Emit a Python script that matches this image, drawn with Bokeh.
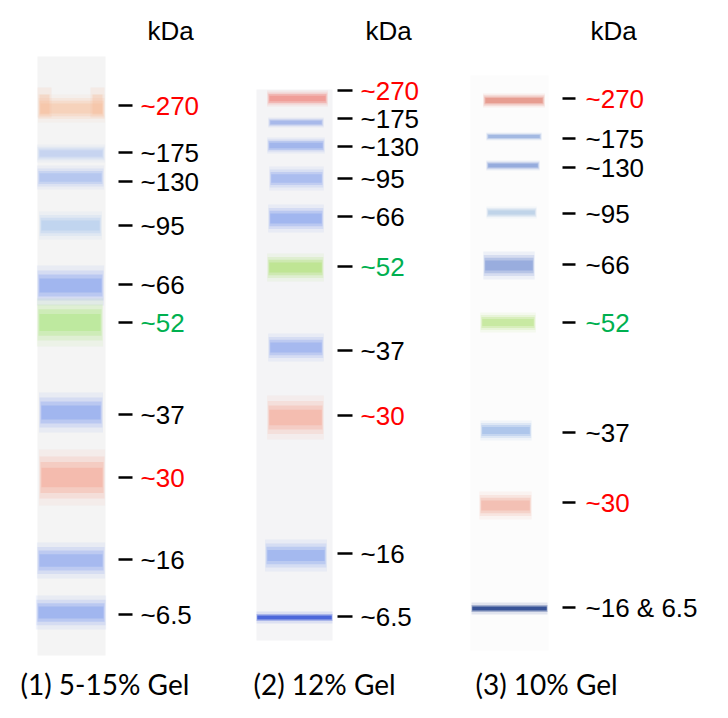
from bokeh.plotting import figure
from bokeh.models import Range1d, ColumnDataSource
from bokeh.embed import file_html
from bokeh.resources import INLINE
from bokeh.core.properties import value

# ---------------- data ----------------
unit_label = "kDa"
lane_titles = ["(1) 5-15% Gel", "(2) 12% Gel", "(3) 10% Gel"]

lane1_markers = ["~270", "~175", "~130", "~95", "~66", "~52", "~37", "~30", "~16", "~6.5"]
lane1_band_y = [108, 153, 177, 225, 285, 322, 412, 477, 560, 612]
lane1_label_y = [105, 152, 181, 225, 284, 322, 414, 477, 559, 614]

lane2_markers = ["~270", "~175", "~130", "~95", "~66", "~52", "~37", "~30", "~16", "~6.5"]
lane2_band_y = [98, 122, 145, 178, 218, 267, 347, 417, 555, 617]
lane2_label_y = [90, 118, 146, 178, 216, 266, 350, 415, 553, 616]

lane3_markers = ["~270", "~175", "~130", "~95", "~66", "~52", "~37", "~30", "~16 & 6.5"]
lane3_band_y = [100, 136, 165, 212, 265, 322, 430, 505, 608]
lane3_label_y = [98, 138, 167, 213, 264, 322, 432, 502, 607]

# ---------------- styles ----------------
label_colors = {"~270": "#FF0000", "~30": "#FF0000", "~52": "#00B050"}

lane1_style = [  # (color, height, x0, x1)
    ("#F7C3A2", 14, 39, 103), ("#B3C6F0", 9, 38, 103), ("#9BB3EE", 12, 38, 102),
    ("#ABC8EE", 14, 40, 100), ("#7D9BEE", 20, 38, 102), ("#A8E57A", 24, 38, 101),
    ("#7E9CEE", 20, 40, 101), ("#F5A290", 28, 40, 103), ("#84A0EE", 18, 38, 103),
    ("#7E9CEE", 17, 37, 104),
]
lane2_style = [
    ("#EF7870", 8, 268, 326), ("#87A0E6", 5, 269, 322), ("#7F9AE8", 8, 268, 323),
    ("#8AA6EE", 12, 270, 322), ("#7E9CEE", 14, 269, 322), ("#A9DE68", 14, 268, 322),
    ("#84A0EE", 14, 269, 322), ("#F4A492", 22, 268, 322), ("#82A0EE", 16, 266, 325),
    ("#3554D6", 4, 256, 332),
]
lane3_style = [
    ("#DE7262", 7, 484, 543), ("#7C9AD8", 4, 487, 540), ("#6A8AD0", 5, 487, 538),
    ("#A6C4E0", 6, 487, 535), ("#6D8CD2", 14, 484, 533), ("#B2E07A", 10, 481, 534),
    ("#8DAEE4", 10, 481, 530), ("#F0A696", 14, 480, 530), ("#1D3C88", 4, 471, 547),
]

gels = [  # background strips (x0, x1, y0, y1, color)
    (37, 105, 56, 655, "#F4F4F4"),
    (256, 332, 89, 640, "#F4F4F6"),
    (470, 548, 75, 650, "#FCFCFC"),
]
tick_x = [(118, 132), (337, 352), (562, 575)]
label_x = [140, 360, 585]
kda_x = [147, 365, 590]
title_x = [20, 253, 475]

p = figure(width=712, height=702, output_backend="svg", toolbar_location=None,
           x_range=Range1d(0, 712), y_range=Range1d(702, 0), min_border=0)
p.axis.visible = False
p.grid.visible = False
p.outline_line_color = None
p.background_fill_color = "white"
p.border_fill_color = "white"

# gel strips
p.quad(left=[g[0] for g in gels], right=[g[1] for g in gels],
       top=[g[2] for g in gels], bottom=[g[3] for g in gels],
       fill_color=[g[4] for g in gels], line_color=None)

layers = [(2.0, 1.05, 0.10), (1.5, 1.03, 0.18), (1.1, 1.0, 0.30), (0.7, 0.97, 0.40)]
sharp_layers = [(3.0, 1.0, 0.12), (1.8, 1.0, 0.3), (1.0, 0.98, 0.8)]

def draw_bands(band_y, style, sharp_idx=()):
    for i, (yv, st) in enumerate(zip(band_y, style)):
        col, h, x0, x1 = st
        lay = sharp_layers if i in sharp_idx else layers
        xs, ys, ws, hs, alphas = [], [], [], [], []
        for sh, sw, a in lay:
            xs.append((x0 + x1) / 2)
            ys.append(yv)
            ws.append((x1 - x0) * sw)
            hs.append(h * sh)
            alphas.append(a)
        src = ColumnDataSource(dict(x=xs, y=ys, w=ws, h=hs, a=alphas))
        p.rect(x="x", y="y", width="w", height="h", source=src,
               fill_color=col, fill_alpha="a", line_color=None)

draw_bands(lane1_band_y, lane1_style)
# smile shape of lane 1 top band: raised edges
edge_src = ColumnDataSource(dict(x=[44, 97, 44, 97], y=[lane1_band_y[0] - 6] * 2 + [lane1_band_y[0] - 4] * 2,
                                 w=[14, 14, 10, 10], h=[30, 30, 20, 20], a=[0.15, 0.15, 0.3, 0.3]))
p.rect(x="x", y="y", width="w", height="h", source=edge_src, fill_color="#F5B894",
       fill_alpha="a", line_color=None)
draw_bands(lane2_band_y, lane2_style, sharp_idx=(9,))
draw_bands(lane3_band_y, lane3_style, sharp_idx=(8,))

# ticks and labels
for i, (marks, ly) in enumerate([(lane1_markers, lane1_label_y),
                                  (lane2_markers, lane2_label_y),
                                  (lane3_markers, lane3_label_y)]):
    t0, t1 = tick_x[i]
    p.segment(x0=[t0] * len(ly), x1=[t1] * len(ly), y0=ly, y1=ly,
              line_color="black", line_width=2.5)
    cols = [label_colors.get(m, "#000000") for m in marks]
    src = ColumnDataSource(dict(x=[label_x[i]] * len(ly), y=ly, t=marks, c=cols))
    p.text(x="x", y="y", text="t", text_color="c", source=src,
           text_font=value("Liberation Sans"), text_font_size="26px",
           text_baseline="middle", text_align="left")

p.text(x=kda_x, y=[30] * 3, text=[unit_label] * 3, text_color="black",
       text_font=value("Liberation Sans"), text_font_size="26px",
       text_baseline="middle", text_align="left")

p.text(x=title_x, y=[683] * 3, text=lane_titles, text_color="black",
       text_font=value("Lato"), text_font_size="28px",
       text_baseline="middle", text_align="left")

open("out.html", "w").write(file_html(p, INLINE))
